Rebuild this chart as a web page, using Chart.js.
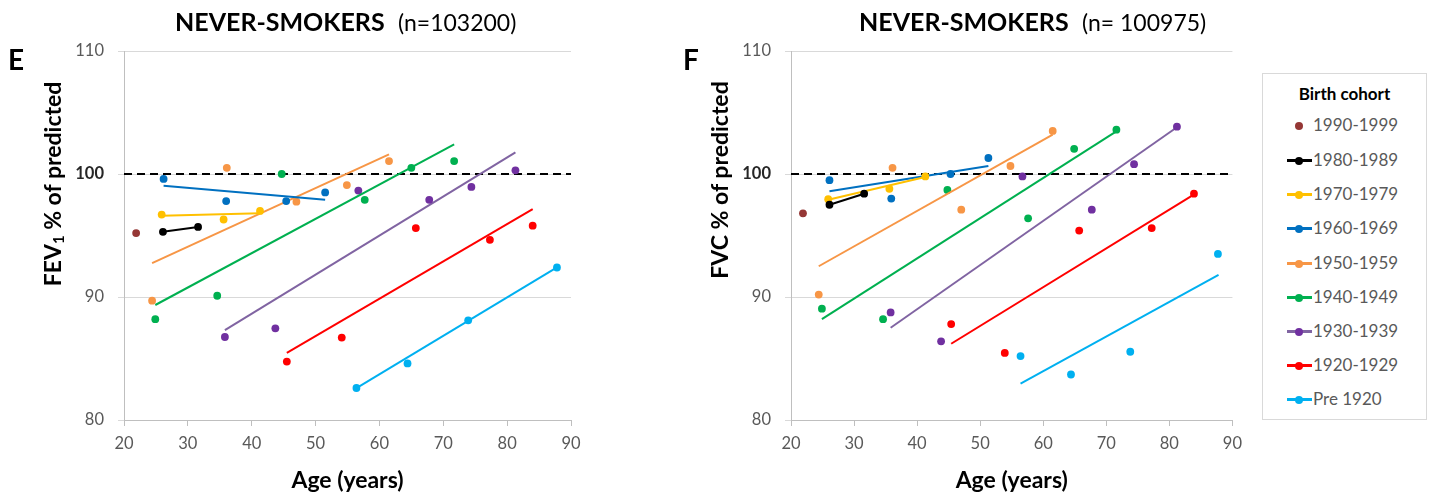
<!DOCTYPE html>
<html><head><meta charset="utf-8">
<script src="https://cdn.jsdelivr.net/npm/chart.js@4.4.1/dist/chart.umd.min.js"></script>
<style>
html,body{margin:0;padding:0;background:#fff;}
body{width:1438px;height:494px;overflow:hidden;position:relative;font-family:Lato,"Open Sans",sans-serif;color:#000;}
.cv{position:absolute;top:0;}
.t{position:absolute;white-space:nowrap;line-height:1;}
.tb{font-weight:700;font-size:25px;}
.tn{font-weight:400;font-size:23px;}
.let{font-weight:700;font-size:28px;}
.yt{position:absolute;white-space:nowrap;line-height:1;font-weight:700;font-size:23px;transform:translate(-50%,-50%) rotate(-90deg);}
.yt sub{font-size:15px;vertical-align:-3px;}
#legend{position:absolute;left:1262px;top:73px;width:165px;height:347px;border:1px solid #d9d9d9;box-sizing:border-box;}
#legend .lt{position:absolute;left:0;width:100%;text-align:center;top:11px;font-weight:700;font-size:17px;line-height:1;}
.li{position:absolute;left:0;height:20px;width:100%;}
.li .ln{position:absolute;left:24px;width:25px;top:9px;height:3px;}
.li .dt{position:absolute;left:32px;top:7px;width:8px;height:8px;border-radius:50%;}
.li .tx{position:absolute;left:50px;top:1px;font-size:17px;color:#595959;line-height:1;}
</style>
</head><body>
<canvas id="cE" class="cv" style="left:0px" width="600" height="494"></canvas>
<canvas id="cF" class="cv" style="left:670px" width="580" height="494"></canvas>

<div class="t tb" style="left:175px;top:8.5px">NEVER-SMOKERS</div>
<div class="t tn" style="left:398px;top:10.5px">(n=103200)</div>
<div class="t tb" style="left:859px;top:8.5px">NEVER-SMOKERS</div>
<div class="t tn" style="left:1082px;top:10.5px">(n= 100975)</div>
<div class="t let" style="left:8px;top:45px">E</div>
<div class="t let" style="left:683px;top:45px">F</div>
<div class="yt" style="left:53px;top:184px">FEV<sub>1</sub> % of predicted</div>
<div class="yt" style="left:719px;top:180px">FVC % of predicted</div>
<div id="legend"><div class="lt">Birth cohort</div></div>

<script>
// ---------- DATA ----------
const cohorts = ['1990-1999','1980-1989','1970-1979','1960-1969','1950-1959','1940-1949','1930-1939','1920-1929','Pre 1920'];
const pointColors = ['#953735','#000000','#FFC000','#0070C0','#F79646','#00B050','#7030A0','#FF0000','#00B0F0'];
const lineColors  = ['#953735','#000000','#FFC000','#0070C0','#F79646','#00B050','#8064A2','#FF0000','#00B0F0'];
const xTicks = [20,30,40,50,60,70,80,90];
const yTicks = [80,90,100,110];
const refValue = 100;

// Panel E: FEV1 % of predicted
const fevAges = [
  [21.9],
  [26.1,31.6],
  [25.9,35.6,41.3],
  [26.2,36.0,45.4,51.5],
  [24.4,36.1,47.0,54.9,61.5],
  [24.9,34.6,44.7,57.7,65.0,71.7],
  [35.8,43.7,56.7,67.8,74.4,81.3],
  [45.5,54.1,65.7,77.3,84.0],
  [56.4,64.4,73.9,87.8]
];
const fevValues = [
  [95.2],
  [95.3,95.7],
  [96.7,96.3,97.0],
  [99.6,97.8,97.8,98.5],
  [89.7,100.5,97.75,99.1,101.05],
  [88.2,90.1,100.0,97.9,100.5,101.05],
  [86.75,87.45,98.65,97.9,98.95,100.3],
  [84.75,86.7,95.6,94.65,95.8],
  [82.6,84.6,88.1,92.4]
];
const fevTrendAges = [[],[26.1,31.6],[25.9,41.3],[26.2,51.5],[24.4,61.5],[24.9,71.7],[35.8,81.3],[45.5,84.0],[56.4,87.8]];
const fevTrendValues = [[],[95.3,95.7],[96.6,96.8],[99.05,97.9],[92.75,101.6],[89.35,102.4],[87.3,101.75],[85.45,97.15],[82.6,92.4]];

// Panel F: FVC % of predicted
const fvcAges = [
  [21.9],
  [26.1,31.6],
  [25.9,35.6,41.3],
  [26.1,35.9,45.3,51.3],
  [24.4,36.1,47.0,54.8,61.5],
  [24.9,34.6,44.8,57.6,64.9,71.6],
  [35.8,43.8,56.7,67.7,74.4,81.2],
  [45.4,53.9,65.7,77.2,83.9],
  [56.4,64.4,73.8,87.7]
];
const fvcValues = [
  [96.8],
  [97.5,98.4],
  [97.95,98.8,99.8],
  [99.5,98.0,100.0,101.3],
  [90.2,100.5,97.1,100.65,103.5],
  [89.05,88.2,98.7,96.4,102.05,103.6],
  [88.75,86.4,99.8,97.1,100.8,103.85],
  [87.8,85.45,95.4,95.6,98.4],
  [85.2,83.7,85.55,93.5]
];
const fvcTrendAges = [[],[26.1,31.6],[25.9,41.3],[26.1,51.3],[24.4,61.5],[24.9,71.4],[35.8,81.2],[45.4,83.8],[56.4,87.8]];
const fvcTrendValues = [[],[97.5,98.4],[97.9,99.75],[98.6,100.65],[92.5,103.2],[88.2,103.4],[87.5,103.8],[86.2,98.3],[82.95,91.8]];

// ---------- BUILD ----------
const FONT = 'Lato, "Open Sans", sans-serif';

function pts(xs, ys){ return xs.map((a,j)=>({x:a, y:ys[j]})); }

function buildDatasets(ages, vals, tAges, tVals){
  const ds = [];
  cohorts.forEach((c,i)=>{
    ds.push({label:c, data:pts(ages[i], vals[i]), backgroundColor:pointColors[i], borderColor:pointColors[i],
      pointRadius:3.9, pointBorderWidth:0, showLine:false});
    if (tAges[i].length){
      ds.push({label:c+' trend', data:pts(tAges[i], tVals[i]), borderColor:lineColors[i], backgroundColor:lineColors[i],
        borderWidth:2, pointRadius:0, showLine:true, fill:false});
    }
  });
  ds.push({label:'ref', data:[{x:xTicks[0], y:refValue},{x:xTicks[xTicks.length-1], y:refValue}],
    borderColor:'#000', borderWidth:2, borderDash:[8,5], pointRadius:0, showLine:true, fill:false});
  return ds;
}

function makeChart(id, ages, vals, tAges, tVals, yWidth, padRight){
  return new Chart(document.getElementById(id), {
    type:'scatter',
    data:{datasets:buildDatasets(ages, vals, tAges, tVals)},
    options:{
      responsive:false, animation:false, devicePixelRatio:1,
      layout:{padding:{left:0,right:padRight,top:51,bottom:0}},
      plugins:{legend:{display:false}, tooltip:{enabled:false}, title:{display:false}},
      scales:{
        x:{type:'linear', min:xTicks[0], max:xTicks[xTicks.length-1],
          afterBuildTicks:s=>{ s.ticks = xTicks.map(v=>({value:v})); },
          afterFit:s=>{ s.height = 74; },
          grid:{drawOnChartArea:false, drawTicks:true, tickLength:6, color:'#bfbfbf'},
          border:{display:true, color:'#bfbfbf', width:1},
          ticks:{color:'#595959', font:{family:FONT, size:16.5}, padding:8, maxRotation:0},
          title:{display:true, text:'Age (years)', color:'#000', font:{family:FONT, size:23, weight:'bold'}, padding:{top:0,bottom:0}}
        },
        y:{type:'linear', min:yTicks[0], max:yTicks[yTicks.length-1],
          afterBuildTicks:s=>{ s.ticks = yTicks.map(v=>({value:v})); },
          afterFit:s=>{ s.width = yWidth; },
          grid:{color:'#d9d9d9', tickLength:6, drawTicks:true},
          border:{display:true, color:'#bfbfbf', width:1},
          ticks:{padding:14,
            color:c=> c.tick && c.tick.value===refValue ? '#262626' : '#595959',
            font:c=> ({family:FONT, size:16.5, weight: (c.tick && c.tick.value===refValue) ? 'bold' : 'normal'})}
        }
      }
    }
  });
}

makeChart('cE', fevAges, fevValues, fevTrendAges, fevTrendValues, 124, 29);
makeChart('cF', fvcAges, fvcValues, fvcTrendAges, fvcTrendValues, 121, 12);

// ---------- LEGEND ----------
const legendY = [125,160,194,228,263,297,331,365,399];
const lg = document.getElementById('legend');
cohorts.forEach((c,i)=>{
  const row = document.createElement('div');
  row.className = 'li';
  row.style.top = (legendY[i] - 73 - 11) + 'px';
  const hasLine = fevTrendAges[i].length > 0;
  row.innerHTML = (hasLine ? '<div class="ln" style="background:'+lineColors[i]+'"></div>' : '') +
    '<div class="dt" style="background:'+pointColors[i]+'"></div><div class="tx">'+c+'</div>';
  lg.appendChild(row);
});
</script>
</body></html>
